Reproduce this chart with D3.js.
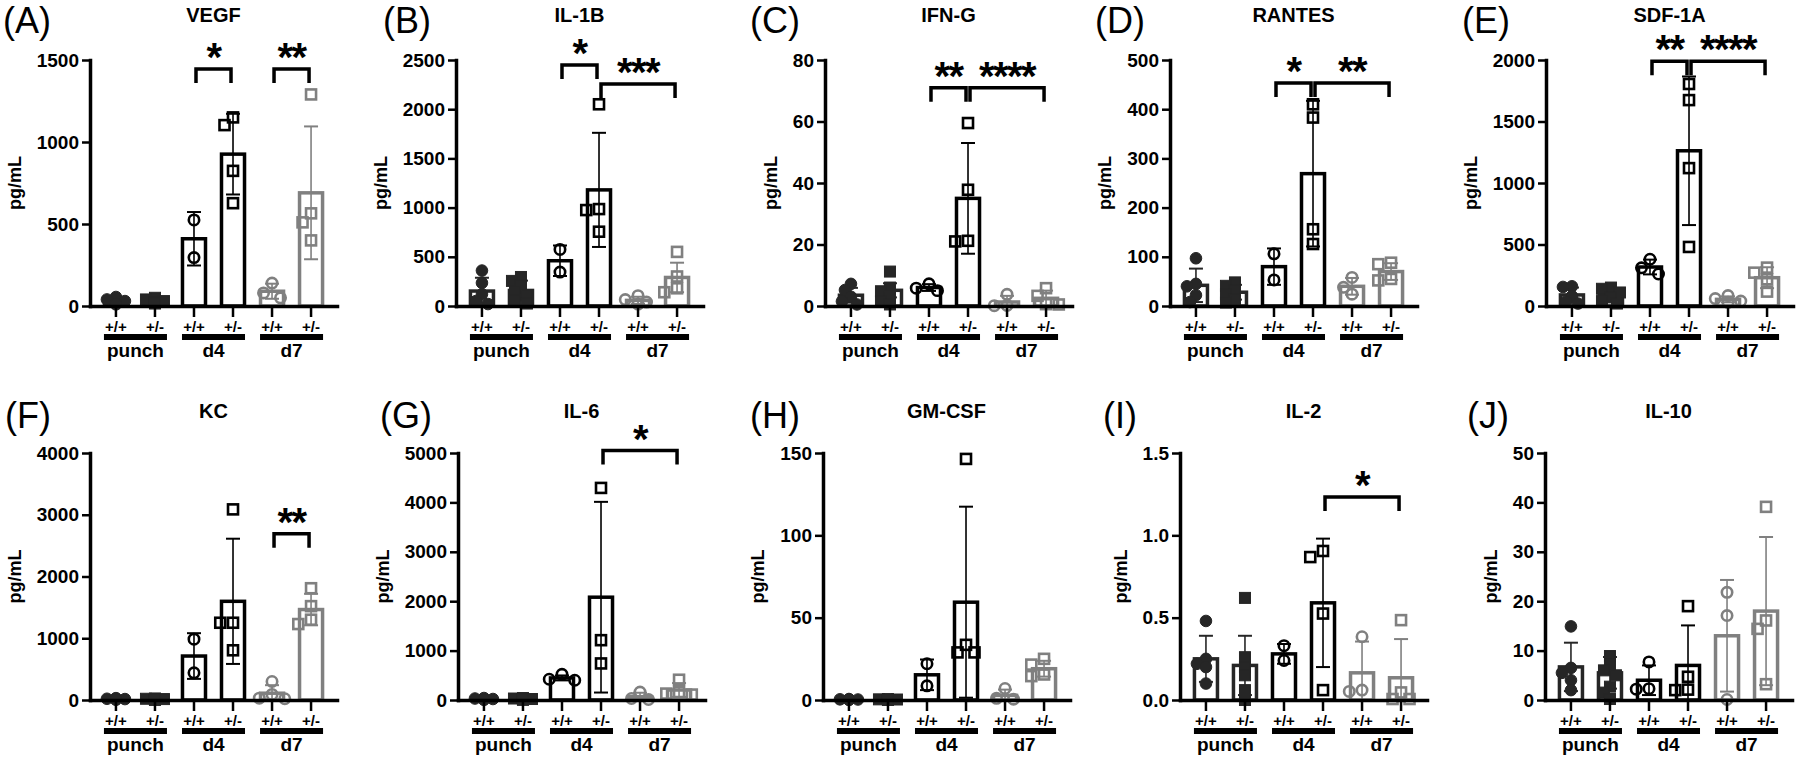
<!DOCTYPE html>
<html><head><meta charset="utf-8">
<script src="https://cdn.jsdelivr.net/npm/d3@7"></script>
<style>
body{margin:0;background:#fff}
text{font-family:"Liberation Sans",Arial,Helvetica,sans-serif}
</style>
</head><body>
<svg id="c" width="1800" height="762"></svg>
<script>
// ---------- DATA ----------
const panelLetters = ["A","B","C","D","E","F","G","H","I","J"];
const titles = ["VEGF","IL-1B","IFN-G","RANTES","SDF-1A","KC","IL-6","GM-CSF","IL-2","IL-10"];
const genotypes = ["+/+","+/-","+/+","+/-","+/+","+/-"];
const groups = ["punch","d4","d7"];
const yMaxes = [1500,2500,80,500,2000,4000,5000,150,1.5,50];
const yTickValues = [
  [0,500,1000,1500],[0,500,1000,1500,2000,2500],[0,20,40,60,80],[0,100,200,300,400,500],
  [0,500,1000,1500,2000],[0,1000,2000,3000,4000],[0,1000,2000,3000,4000,5000],
  [0,50,100,150],[0,0.5,1.0,1.5],[0,10,20,30,40,50]];
const yTickLabels = [
  ["0","500","1000","1500"],["0","500","1000","1500","2000","2500"],["0","20","40","60","80"],
  ["0","100","200","300","400","500"],["0","500","1000","1500","2000"],["0","1000","2000","3000","4000"],
  ["0","1000","2000","3000","4000","5000"],["0","50","100","150"],["0.0","0.5","1.0","1.5"],
  ["0","10","20","30","40","50"]];

const vegfMean = [30,30,410,926,90,690];
const vegfSD   = [18,14,163,246,46,405];
const vegfPts  = [[55,40,30,15,10],[50,40,30,25,20,15],[525,295],[1150,1103,824,627],[140,80,50],[1290,565,510,400]];
const vegfSig  = [[2,3,1445,"*"],[4,5,1445,"**"]];

const il1bMean = [152,158,460,1180,57,290];
const il1bSD   = [135,100,155,580,37,150];
const il1bPts  = [[360,235,120,50,20],[295,255,210,150,110,60,25],[575,345],[2050,985,975,755],[105,65,40,20],[550,300,180,140]];
const il1bSig  = [[2,3,2450,"*"],[3,5,2257,"***"]];

const ifngMean = [3.5,5.1,6,35,1.3,2.5];
const ifngSD   = [2.4,2.3,1.1,18,2.0,2.5];
const ifngPts  = [[7.2,5.2,3.0,1.5,0.5],[11.2,6.0,4.8,3.2,1.5,0.5],[5.0,5.8,7.2],[59.5,37.8,21.2,21.0],[3.8,0.2,0.1],[5.8,3.3,0.6,0.5]];
const ifngSig  = [[2,3,71,"**"],[3,5,71,"****"]];

const rantesMean = [42,28,80,269,40,70];
const rantesSD   = [34,15,37,148,17,17];
const rantesPts  = [[97,45,40,22,8],[48,41,31,24,14,7],[106,53],[410,383,156,126],[58,38,24],[88,85,55,52]];
const rantesSig  = [[2,3,453,"*"],[3,5,453,"**"]];

const sdfMean = [90,88,317,1262,54,230];
const sdfSD   = [60,50,60,604,24,85];
const sdfPts  = [[160,155,80,35,20],[150,140,110,70,40,20],[380,310,260],[1805,1674,1121,480],[85,60,40,30],[312,271,217,117]];
const sdfSig  = [[2,3,1990,"**"],[3,5,1990,"****"]];

const kcMean = [15,13,712,1598,110,1465];
const kcSD   = [10,9,370,1014,130,255];
const kcPts  = [[30,20,15,10,5],[25,20,15,10,5,3],[985,440],[3087,1251,1251,805],[300,90,30,20],[1810,1520,1300,1230]];
const kcSig  = [[4,5,2694,"**"]];

const il6Mean = [20,20,447,2081,67,202];
const il6SD   = [14,13,50,1930,80,140];
const il6Pts  = [[40,30,20,10,5],[40,30,20,15,10,5],[520,420,400],[4293,1211,740],[160,30,10],[410,160,130,110]];
const il6Sig  = [[3,5,5050,"*"]];

const gmcsfMean = [0.3,0.3,15.3,59.4,2.8,19];
const gmcsfSD   = [0.2,0.2,9.3,58,3.5,4.8];
const gmcsfPts  = [[0.6,0.4,0.3,0.2,0.1],[0.5,0.4,0.3,0.2,0.1,0.1],[22,8.6],[146.4,33.5,28.9,28.9],[7.0,1.0,0.5],[25,21.5,15.5,14.5]];
const gmcsfSig  = [];

const il2Mean = [0.25,0.21,0.28,0.59,0.165,0.135];
const il2SD   = [0.14,0.18,0.06,0.39,0.19,0.235];
const il2Pts  = [[0.48,0.25,0.22,0.2,0.1],[0.62,0.26,0.2,0.15,0.06,0.0],[0.33,0.24],[0.905,0.868,0.525,0.06],[0.384,0.052,0.06],[0.485,0.046,0.006,0.006]];
const il2Sig  = [[3,5,1.233,"*"]];

const il10Mean = [6.7,5.5,4.0,7.0,13,18];
const il10SD   = [4.9,3.2,3.0,8.1,11.3,15];
const il10Pts  = [[14.9,6.5,5.5,4,2],[8.9,7.2,6.0,5.0,2.7,1.5,0.2],[7.7,2.3,2.2],[19,4.7,2.1,2.0],[21.8,17.1,0.1],[39.1,16.1,14.4,3.2]];
const il10Sig  = [];

const means = [vegfMean,il1bMean,ifngMean,rantesMean,sdfMean,kcMean,il6Mean,gmcsfMean,il2Mean,il10Mean];
const sds   = [vegfSD,il1bSD,ifngSD,rantesSD,sdfSD,kcSD,il6SD,gmcsfSD,il2SD,il10SD];
const pts   = [vegfPts,il1bPts,ifngPts,rantesPts,sdfPts,kcPts,il6Pts,gmcsfPts,il2Pts,il10Pts];
const sigs  = [vegfSig,il1bSig,ifngSig,rantesSig,sdfSig,kcSig,il6Sig,gmcsfSig,il2Sig,il10Sig];

// ---------- LAYOUT / STYLE ----------
const axisXs  = [90,456,825,1170,1546,90,458,823,1180,1545];
const labelXs = [3,383,750,1095,1462,5,380,750,1103,1467];
const rowTop = [60,453], rowZero = [306,700], rowTitle = [15,411], rowLetter = [33,428];
const axisLen = 247;
const groupColors = ["#262626","#000000","#808080"];
const FONT = "Liberation Sans, Arial, sans-serif";

const svg = d3.select("#c");

panelLetters.forEach((letter,i)=>{
  const row = i < 5 ? 0 : 1;
  const x0 = axisXs[i];
  const yZ = rowZero[row], yT = rowTop[row];
  const g = svg.append("g");
  const y = d3.scaleLinear().domain([0, yMaxes[i]]).range([yZ, yT]);
  const x = d3.scaleBand().domain(d3.range(6)).range([x0, x0+axisLen]).paddingInner(0.41).paddingOuter(0.37);
  const bw = x.bandwidth();
  const cx = k => x(k) + bw/2;

  // panel letter & title
  g.append("text").attr("x", labelXs[i]).attr("y", rowLetter[row]).attr("font-size", 36)
    .attr("fill","#000").text("(" + letter + ")");
  g.append("text").attr("x", x0 + axisLen/2).attr("y", rowTitle[row] + 7).attr("text-anchor","middle")
    .attr("font-size", 20).attr("font-weight","bold").text(titles[i]);

  // bars
  means[i].forEach((m,k)=>{
    const col = groupColors[Math.floor(k/2)];
    g.append("rect").attr("x", x(k)).attr("width", bw).attr("y", y(m)).attr("height", yZ - y(m))
      .attr("fill","#fff").attr("stroke", col).attr("stroke-width", 3.5);
  });
  // error bars
  means[i].forEach((m,k)=>{
    const col = groupColors[Math.floor(k/2)];
    const lo = y(Math.max(0, m - sds[i][k])), hi = y(m + sds[i][k]);
    const c = cx(k);
    g.append("line").attr("x1",c).attr("x2",c).attr("y1",lo).attr("y2",hi).attr("stroke",col).attr("stroke-width",1.6);
    g.append("line").attr("x1",c-7).attr("x2",c+7).attr("y1",hi).attr("y2",hi).attr("stroke",col).attr("stroke-width",2);
    if (m - sds[i][k] > 0)
      g.append("line").attr("x1",c-7).attr("x2",c+7).attr("y1",lo).attr("y2",lo).attr("stroke",col).attr("stroke-width",2);
  });
  // points with simple dodge
  const candsOpen = [0,-8.5,8.5,-4.25,4.25,-12.75,12.75,-17,17];
  const candsFill = [0,-6,6,-3,3,-9,9,-12,12];
  pts[i].forEach((arr,k)=>{
    const grp = Math.floor(k/2), col = groupColors[grp];
    const filled = grp === 0;
    const cands = filled ? candsFill : candsOpen;
    const thr = filled ? 8 : 10.5;
    const placed = [];
    arr.slice().sort((a,b)=>b-a).forEach(v=>{
      const py = y(v);
      let off = cands[0];
      for (const c of cands) {
        if (placed.every(p => Math.hypot(p[0]-c, p[1]-py) >= thr)) { off = c; break; }
      }
      placed.push([off, py]);
      const px = cx(k) + off;
      if (k % 2 === 0) {
        g.append("circle").attr("cx",px).attr("cy",py).attr("r", filled?5.8:5.2)
          .attr("fill", filled?col:"none").attr("stroke",col).attr("stroke-width", filled?1:2.6);
      } else {
        const s = filled?11:10;
        g.append("rect").attr("x",px-s/2).attr("y",py-s/2).attr("width",s).attr("height",s)
          .attr("fill", filled?col:"none").attr("stroke",col).attr("stroke-width", filled?1:2.6);
      }
    });
  });

  // y axis
  const ya = g.append("g").attr("transform",`translate(${x0},0)`)
    .call(d3.axisLeft(y).tickValues(yTickValues[i]).tickFormat((d,j)=>yTickLabels[i][j]).tickSize(8).tickSizeOuter(0).tickPadding(3));
  ya.select(".domain").attr("stroke","#000").attr("stroke-width",3.5).attr("stroke-linecap","square");
  ya.selectAll(".tick line").attr("stroke","#000").attr("stroke-width",2.5);
  ya.selectAll(".tick text").attr("font-size",19).attr("font-weight","bold").attr("fill","#000")
    .attr("font-family",FONT);
  let minLeft = x0;
  ya.selectAll(".tick text").each(function(){ const b=this.getBBox(); minLeft=Math.min(minLeft, x0 + b.x); });

  // x axis
  const xa = g.append("g").attr("transform",`translate(0,${yZ})`)
    .call(d3.axisBottom(x).tickFormat(k=>genotypes[k]).tickSize(11).tickSizeOuter(0).tickPadding(4));
  xa.select(".domain").attr("stroke","#000").attr("stroke-width",3.5).attr("stroke-linecap","square");
  xa.selectAll(".tick line").attr("stroke","#000").attr("stroke-width",2.5);
  xa.selectAll(".tick text").attr("font-size",15).attr("font-weight","bold").attr("fill","#000")
    .attr("font-family",FONT);

  // y label
  const ly = (yZ + yT)/2;
  g.append("text").attr("transform",`translate(${minLeft-16},${ly}) rotate(-90)`).attr("text-anchor","middle")
    .attr("font-size",18).attr("font-weight","bold").text("pg/mL");

  // group bars
  groups.forEach((gn,j)=>{
    const a = cx(2*j) - 12, b = cx(2*j+1) + 12;
    g.append("rect").attr("x",a).attr("y",yZ+28).attr("width",b-a).attr("height",6).attr("fill","#000");
    g.append("text").attr("x",(a+b)/2).attr("y",yZ+51).attr("text-anchor","middle")
      .attr("font-size",19).attr("font-weight","bold").text(gn);
  });

  // significance brackets
  sigs[i].forEach(s=>{
    const xa1 = cx(s[0]) + 2, xb1 = cx(s[1]) - 2, yb = y(s[2]);
    g.append("path").attr("d",`M${xa1},${yb+14}V${yb}H${xb1}V${yb+14}`)
      .attr("fill","none").attr("stroke","#000").attr("stroke-width",3.5).attr("stroke-linejoin","miter");
    g.append("text").attr("x",(xa1+xb1)/2).attr("y",yb+2).attr("text-anchor","middle")
      .attr("font-size",40).attr("font-weight","bold").attr("letter-spacing",-1.5).text(s[3]);
  });
});
</script>
</body></html>
